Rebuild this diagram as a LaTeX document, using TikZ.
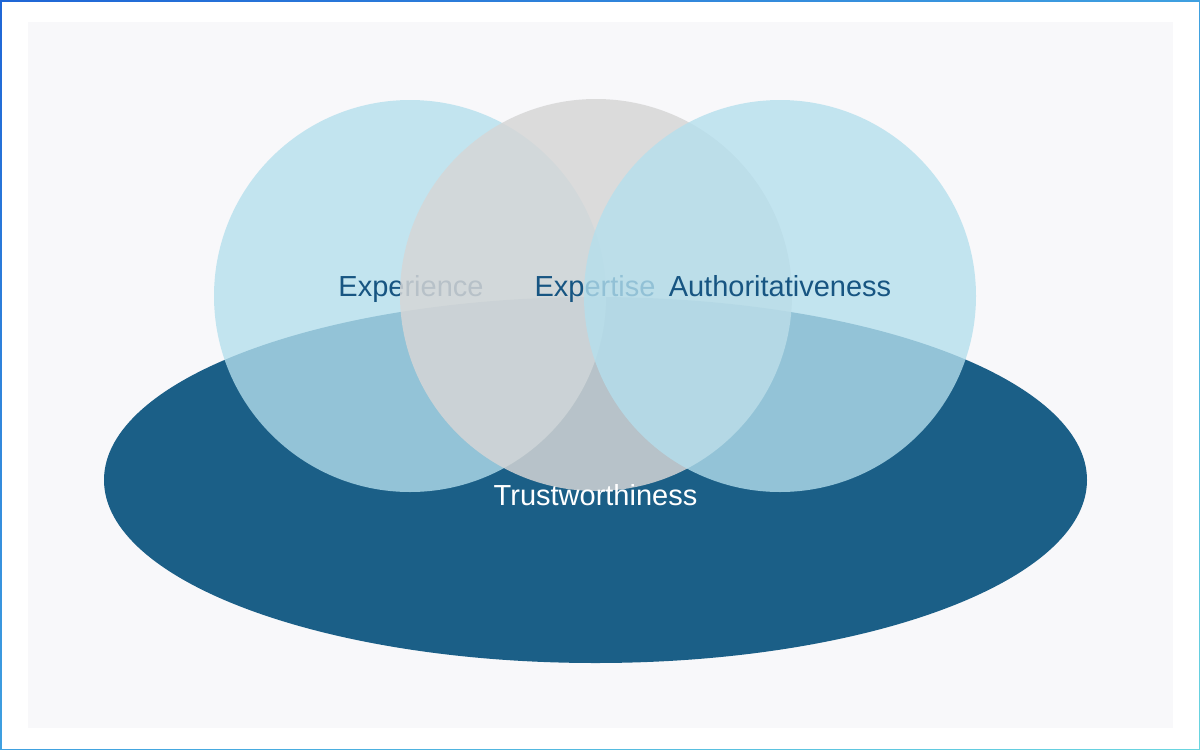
\documentclass[tikz,border=0pt]{standalone}
\usepackage{fontspec}
\setmainfont{Liberation Sans}
\usetikzlibrary{shadings,shapes.geometric}
\definecolor{frameA}{HTML}{1F66D6}
\definecolor{frameB}{HTML}{3FA0E0}
\definecolor{frameC}{HTML}{6AD6E0}
\definecolor{panel}{HTML}{F8F8FA}
\definecolor{trust}{HTML}{1B5F87}
\definecolor{lblue}{HTML}{B4DFED}
\definecolor{lgray}{HTML}{D6D6D6}
\definecolor{labelc}{HTML}{175582}
\tikzset{
  venn/.style={circle, minimum size=392pt, inner sep=0pt, draw=none},
  bluecirc/.style={venn, fill=lblue, fill opacity=0.79},
  graycirc/.style={venn, fill=lgray, fill opacity=0.84},
  lab/.style={font=\fontsize{29}{34}\selectfont, text=labelc, inner sep=0pt, anchor=base},
}
\begin{document}
\begin{tikzpicture}[x=1pt,y=-1pt]
\useasboundingbox (0,0) rectangle (1200,750);
% frame with gradient
\shade[upper left=frameA, upper right=frameB, lower left=frameB, lower right=frameC] (0,0) rectangle (1200,750);
\fill[white] (1.5,1.5) rectangle (1198.5,748.5);
% panel
\fill[panel] (28,22) rectangle (1173,728);
% base ellipse
\node[ellipse, minimum width=983pt, minimum height=366pt, inner sep=0pt, fill=trust] (base) at (595.5,480) {};
% circles and labels
\node[bluecirc] (cexp) at (410,296) {};
\node[lab] (lexp) at (411,296.5) {Experience};
\node[graycirc] (cxpt) at (596,295) {};
\node[lab] (lxpt) at (595,296.5) {Expertise};
\node[bluecirc] (caut) at (780,296) {};
\node[lab] (laut) at (780,296.5) {Authoritativeness};
\node[lab, text=white] (ltru) at (595.5,505.5) {Trustworthiness};
\end{tikzpicture}
\end{document}
